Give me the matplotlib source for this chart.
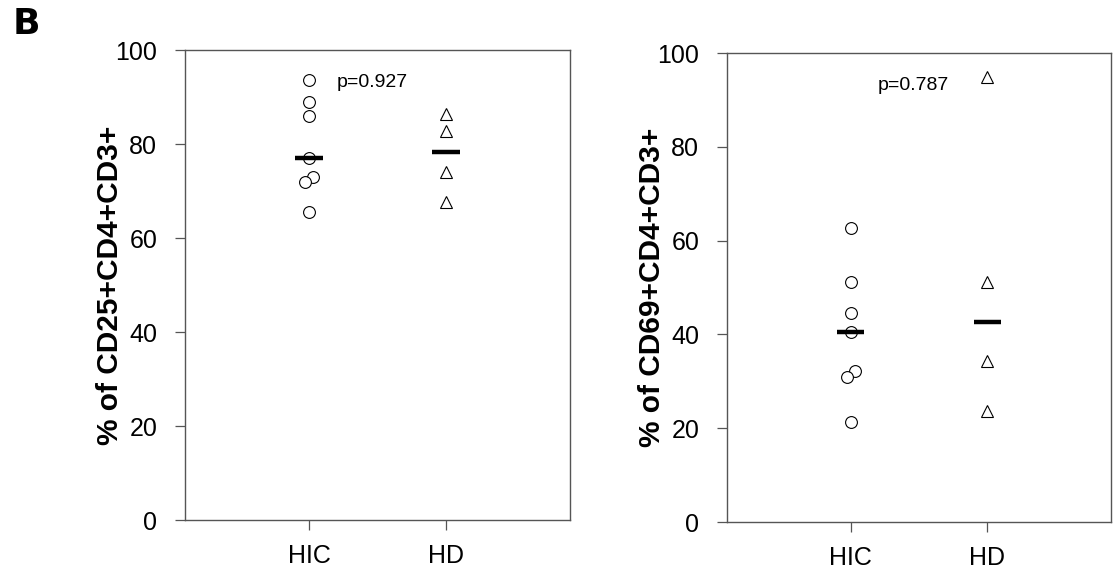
import numpy as np
import matplotlib.pyplot as plt

plt.rcParams['font.family'] = ['Liberation Sans', 'DejaVu Sans']

# Data (percent)
groups = ["HIC", "HD"]
cd25_hic = [93.6, 88.9, 85.9, 77.0, 72.9, 71.9, 65.5]
cd25_hd = [86.4, 82.7, 74.0, 67.6]
cd69_hic = [62.7, 51.2, 44.6, 40.5, 32.2, 30.9, 21.3]
cd69_hd = [94.9, 51.2, 34.3, 23.7]
hic_jitter = [0, 0, 0, 0, 0.03, -0.03, 0]
p_values = ["p=0.927", "p=0.787"]
ylabels = ["% of CD25+CD4+CD3+", "% of CD69+CD4+CD3+"]

fig = plt.figure(figsize=(11.18, 5.8), dpi=100)
ax1 = fig.add_axes([0.1655, 0.1034, 0.3443, 0.8103])
ax2 = fig.add_axes([0.6503, 0.1000, 0.3434, 0.8086])

panels = [(ax1, cd25_hic, cd25_hd), (ax2, cd69_hic, cd69_hd)]
for i, (ax, hic, hd) in enumerate(panels):
    ax.plot(1 + np.array(hic_jitter), hic, 'o', ms=8.5, mfc='white', mec='black', mew=0.8)
    ax.plot(np.full(len(hd), 2), hd, '^', ms=8, mfc='white', mec='black', mew=0.8)
    # median bars
    for x, vals in [(1, hic), (2, hd)]:
        m = np.median(vals)
        ax.plot([x - 0.1, x + 0.1], [m, m], color='black', lw=3.2, solid_capstyle='butt')
    ax.text(1.2, 93.0, p_values[i], fontsize=14, va='center', ha='left')
    ax.set_xlim(0.095, 2.905)
    ax.set_ylim(0, 100)
    ax.set_xticks([1, 2])
    ax.set_xticklabels(groups, fontsize=18)
    ax.set_yticks(np.arange(0, 101, 20))
    ax.tick_params(axis='y', labelsize=18, length=7, width=0.9, color='#555555', pad=13)
    ax.tick_params(axis='x', length=7, width=0.9, color='#555555', pad=10)
    for s in ax.spines.values():
        s.set_color('#555555')
        s.set_linewidth(1.0)
    ax.set_ylabel(ylabels[i], fontsize=21.5, fontweight='bold', labelpad=-6)

fig.text(0.011, 0.959, "B", fontsize=26, fontweight='bold', family='DejaVu Sans', va='center')

fig.savefig("out.png", dpi=100)
